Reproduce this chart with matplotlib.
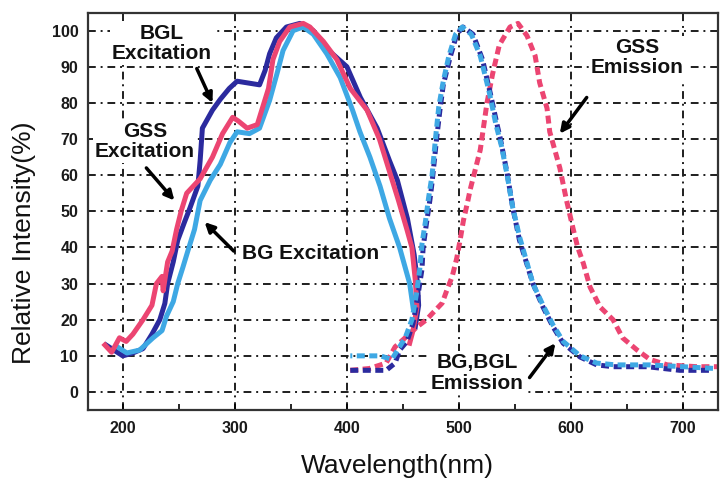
import matplotlib

matplotlib.use("Agg")  # headless
import matplotlib.pyplot as plt

# Excitation spectra (solid lines)
bgl_exc_x = [185, 190, 200, 209, 218, 226, 233, 237.5, 240, 245, 249, 255, 260, 267, 269, 271,
             280, 287, 295, 302, 322, 327, 331, 337, 346, 358, 370, 382, 400, 412, 427, 438,
             445, 454, 460, 463, 464, 461]
bgl_exc_y = [13, 12, 10, 10.8, 12, 16, 20, 24.5, 30, 36, 42, 47, 51, 57, 64, 73,
             78, 81, 84, 86, 85, 89, 93.6, 98, 101, 102, 100, 95, 90, 81.5, 73, 64,
             58.6, 48, 38, 30, 24, 18]

gss_exc_x = [184, 190, 197, 203, 209, 218, 226, 230, 235, 236, 240, 244, 248, 252, 257, 269,
             280, 289, 298, 303, 311, 320, 325, 330, 334, 340, 349, 361, 367, 379, 391, 403,
             418, 429, 438, 446, 453.5, 458, 461, 462.5, 459, 456]
gss_exc_y = [13, 11, 15, 14, 16, 20, 24, 30, 32, 28, 36, 39, 45, 50, 55, 59,
             65, 71.5, 76, 75, 73, 74, 79, 84, 92, 97, 101, 102, 101, 97, 92, 84,
             78, 70, 61, 53, 45, 40, 31, 23.5, 17, 13.5]

bg_exc_x = [195, 203.6, 215, 227, 235, 239, 245, 249, 253.6, 258, 264, 269, 278, 287, 295.5, 302,
            313, 322, 331, 337.5, 343, 352, 361, 370, 382, 394, 405, 411.6, 420.5, 429.5, 438, 447,
            456, 459]
bg_exc_y = [12.5, 10.8, 11.6, 15, 17, 21, 25, 30, 34.5, 39, 45, 53, 58.6, 63, 69, 72,
            71.5, 73, 80.7, 88, 94.5, 100, 101, 99, 93.6, 87, 78, 72, 65, 57, 48, 40,
            30, 23.5]

# Emission spectra (dashed lines)
bgl_em_x = [403, 420, 435, 443, 447, 453.6, 459, 463, 467, 468, 471, 474, 476, 480, 483, 486,
            492, 498, 503.6, 512.5, 521, 528, 534, 537, 543, 548, 554, 566, 575, 584, 593, 608,
            623, 637.5, 668, 697, 727]
bgl_em_y = [6, 6, 6, 8, 11.6, 14, 19, 26, 34, 40, 46.7, 53, 58, 70, 78, 85,
            92.5, 99, 101, 99, 92, 82.6, 74, 70, 60.5, 51, 42, 30, 23.5, 18, 13.5, 9.7,
            7.5, 7, 7, 6, 6]

bg_em_x = [403, 418, 430, 440, 446, 452, 458, 462, 465, 467, 470, 473, 476, 479, 482, 486,
           491, 497, 503, 511, 519, 527, 533, 538, 543, 548, 554, 566, 575, 584, 593, 608,
           623, 640, 670, 700, 729]
bg_em_y = [10, 10, 10, 9, 12, 15, 20, 27, 34, 41, 47, 54, 60, 70, 79, 86,
           93, 99, 101, 99, 93, 83, 74, 68, 60, 51, 43, 30, 24, 18.5, 14, 10,
           8, 7.5, 7.5, 7, 6.5]

gss_em_x = [403, 420, 435, 443, 452, 462.5, 471, 477, 485, 489, 494, 498, 501, 504, 508, 510,
            519, 525, 530, 536, 545.5, 552.7, 560.7, 568, 572, 578.6, 581, 590, 596, 602, 606, 611,
            617, 626, 637.5, 646, 659, 670.5, 686, 712.5, 731]
gss_em_y = [6, 6.5, 8, 12.5, 15, 18, 20, 22, 24.6, 28, 32, 37, 42, 47.5, 53, 56,
            67, 80, 88, 96, 101, 102, 98.6, 93, 85.6, 78.5, 72, 62, 53, 45, 40, 35.6,
            29, 23.5, 20, 15, 11.6, 9, 7.5, 7, 7]

x_ticks = [200, 300, 400, 500, 600, 700]
y_ticks = [0, 10, 20, 30, 40, 50, 60, 70, 80, 90, 100]

dark_blue = "#2b2a9e"
light_blue = "#3ea8e4"
pink = "#ec4572"

plt.rcParams["font.family"] = ["Liberation Sans", "DejaVu Sans"]

fig = plt.figure(figsize=(7.28, 4.83), dpi=100)
ax = fig.add_axes([0.121, 0.151, 0.865, 0.823])

# Excitation
ax.plot(bgl_exc_x, bgl_exc_y, color=dark_blue, lw=3.6)
ax.plot(bg_exc_x, bg_exc_y, color=light_blue, lw=3.6)
ax.plot(gss_exc_x, gss_exc_y, color=pink, lw=3.6)

# Emission
dash = (0, (1.6, 0.9))
ax.plot(gss_em_x, gss_em_y, color=pink, lw=3.6, linestyle=dash)
ax.plot(bgl_em_x, bgl_em_y, color=dark_blue, lw=3.6, linestyle=dash)
ax.plot(bg_em_x, bg_em_y, color=light_blue, lw=3.6, linestyle=(1.2, (1.6, 0.9)))

ax.set_xlim(169, 731)
ax.set_ylim(-5, 105)
ax.set_xticks(x_ticks)
ax.set_yticks(y_ticks)
ax.set_xticks([250, 350, 450, 550, 650], minor=True)
ax.tick_params(axis="x", which="major", direction="in", length=4, width=1.2, pad=8)
ax.tick_params(axis="x", which="minor", direction="in", length=4, width=1.2)
ax.tick_params(axis="y", length=0, pad=7)
for lab in ax.get_xticklabels() + ax.get_yticklabels():
    lab.set_fontweight("bold")
    lab.set_fontsize(11.5)
    lab.set_color("#1a1a1a")

ax.grid(True, which="major", color="#1e1e1e", linestyle=(0, (4, 2.5, 1, 2.5)), lw=1.4)
ax.set_axisbelow(True)
for sp in ax.spines.values():
    sp.set_linewidth(1.6)
    sp.set_color("#333333")

# Annotations (white box hides the grid behind the words, like the original)
box = dict(facecolor="white", edgecolor="none", pad=1.5)
txt = dict(fontsize=15, fontweight="bold", ha="center", va="center", color="#111111",
           linespacing=1.1, bbox=box)
arrow = dict(arrowstyle="-|>", lw=2.5, color="black", mutation_scale=14, shrinkA=0, shrinkB=0)

ax.text(235, 96.5, "BGL\nExcitation", **txt)
ax.annotate("", xy=(280, 80), xytext=(266, 89.5), arrowprops=arrow)

ax.text(219.6, 69.3, "GSS\nExcitation", **txt)
ax.annotate("", xy=(246, 53), xytext=(221, 62), arrowprops=arrow)

ax.text(306, 38.4, "BG Excitation", fontsize=15, fontweight="bold", ha="left",
        va="center", color="#111111", bbox=box)
ax.annotate("", xy=(273, 47), xytext=(299, 39), arrowprops=arrow)

ax.text(659, 92.5, "GSS\nEmission", **txt)
ax.annotate("", xy=(590, 71.5), xytext=(614, 81.5), arrowprops=arrow)

ax.text(516, 5.2, "BG,BGL\nEmission", **txt)
ax.annotate("", xy=(586, 13.5), xytext=(563, 4), arrowprops=arrow)

fig.text(24 / 728, 1 - 243 / 483, "Relative Intensity(%)", rotation=90, ha="center",
         va="center", fontsize=19, color="#111111")
fig.text(397 / 728, 1 - 466 / 483, "Wavelength(nm)", ha="center", va="center",
         fontsize=19, color="#111111")

fig.savefig("out.png", dpi=100)
